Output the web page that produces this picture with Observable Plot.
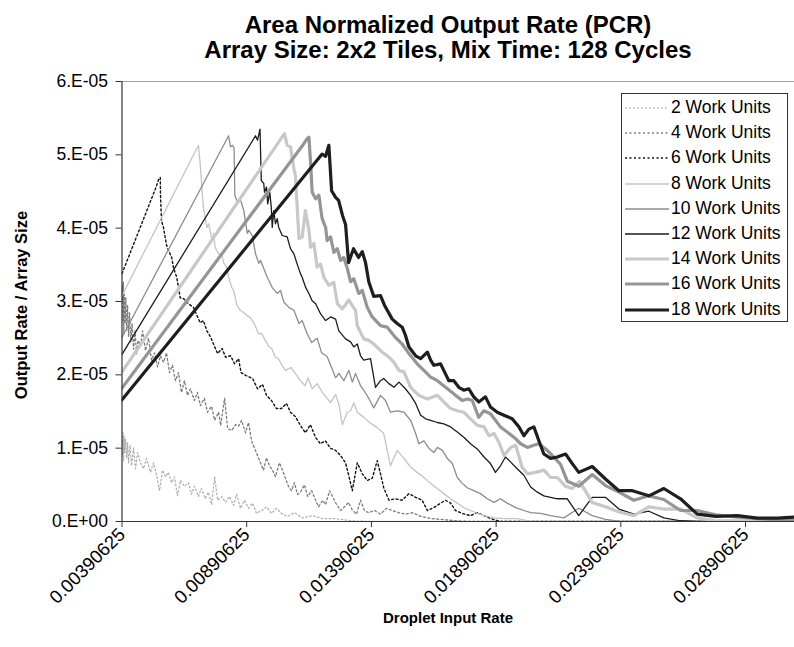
<!DOCTYPE html>
<html>
<head>
<meta charset="utf-8">
<script src="https://cdn.jsdelivr.net/npm/d3@7"></script>
<script src="https://cdn.jsdelivr.net/npm/@observablehq/plot@0.6"></script>
<style>
  body { margin: 0; background: #fff; }
  #wrap { position: relative; width: 794px; height: 647px; overflow: hidden; font-family: "Liberation Sans", Arial, sans-serif; color: #000; }
  #title { position: absolute; left: 0; top: 12px; width: 896px; text-align: center; font-weight: bold; font-size: 24px; line-height: 25px; white-space: nowrap; }
  #xtitle { position: absolute; left: 448px; top: 617px; transform: translate(-50%, -50%); font-weight: bold; font-size: 15px; white-space: nowrap; }
  #ytitle { position: absolute; left: 21px; top: 305px; transform: translate(-50%, -50%) rotate(-90deg); font-weight: bold; font-size: 16.5px; white-space: nowrap; }
  #legend { position: absolute; left: 621px; top: 93px; width: 165px; height: 227px; border: 1px solid #333; background: #fff; }
  .row { position: absolute; left: 0; height: 25px; width: 165px; }
  .row svg { position: absolute; left: 2px; top: 0; }
  .row span { position: absolute; left: 49px; top: 2px; font-size: 17.5px; line-height: 21px; white-space: nowrap; }
  #chart { position: absolute; left: 0; top: 0; }
</style>
</head>
<body>
<div id="wrap">
  <div id="chart"></div>
  <div id="title">Area Normalized Output Rate (PCR)<br>Array Size: 2x2 Tiles, Mix Time: 128 Cycles</div>
  <div id="ytitle">Output Rate / Array Size</div>
  <div id="xtitle">Droplet Input Rate</div>
  <div id="legend"></div>
</div>
<script>
// Axis ticks
const xTicks = [0.00390625, 0.00890625, 0.01390625, 0.01890625, 0.02390625, 0.02890625];
const xTickLabels = ["0.00390625", "0.00890625", "0.01390625", "0.01890625", "0.02390625", "0.02890625"];
const xDomain = [0.00390625, 0.03125];
const yTicks = [0, 1e-5, 2e-5, 3e-5, 4e-5, 5e-5, 6e-5];
const yTickLabels = ["0.E+00", "1.E-05", "2.E-05", "3.E-05", "4.E-05", "5.E-05", "6.E-05"];

// Values: [droplet input rate, output rate / array size in units of 1e-5]
const UNIT = 1e-5;
const seriesNames = ["2 Work Units", "4 Work Units", "6 Work Units", "8 Work Units", "10 Work Units", "12 Work Units", "14 Work Units", "16 Work Units", "18 Work Units"];

const s2 = [[0.00390625,1.10],[0.00393,0.90],[0.00395,1.21],[0.00397,0.83],[0.00399,1.16],[0.00401,0.94],[0.00405,1.13],[0.00409,0.86],[0.00413,1.08],[0.00417,0.80],[0.00423,1.04],[0.00429,0.76],[0.00437,1.00],[0.00445,0.72],[0.00453,0.94],[0.00465,0.80],[0.00477,0.72],[0.00489,0.86],[0.00505,0.67],[0.00517,0.80],[0.00529,0.64],[0.00541,0.42],[0.00553,0.70],[0.00565,0.61],[0.00577,0.67],[0.00589,0.53],[0.00601,0.61],[0.00613,0.35],[0.00625,0.56],[0.00641,0.48],[0.00657,0.53],[0.00669,0.37],[0.00681,0.48],[0.00697,0.34],[0.00709,0.45],[0.00725,0.31],[0.00737,0.40],[0.00750,0.23],[0.00762,0.61],[0.00774,0.29],[0.00790,0.34],[0.00806,0.26],[0.00822,0.34],[0.00838,0.22],[0.00850,0.37],[0.00866,0.18],[0.00882,0.29],[0.00898,0.18],[0.00914,0.25],[0.00930,0.11],[0.00950,0.15],[0.00970,0.20],[0.00990,0.11],[0.01010,0.18],[0.01030,0.11],[0.01054,0.07],[0.01082,0.12],[0.01114,0.05],[0.01155,0.08],[0.01195,0.04],[0.01247,0.04],[0.01307,0.01],[0.01387,0],[0.03125,0]];

const s4 = [[0.00390625,3.01],[0.00392,3.22],[0.00394,2.74],[0.00396,3.27],[0.00398,2.56],[0.00400,3.10],[0.00403,2.70],[0.00406,3.05],[0.00409,2.60],[0.00413,2.95],[0.00417,2.52],[0.00421,2.85],[0.00426,2.45],[0.00431,2.70],[0.00437,2.35],[0.00443,2.60],[0.00449,2.28],[0.00455,2.47],[0.00465,2.40],[0.00473,2.60],[0.00485,2.33],[0.00497,2.50],[0.00509,2.20],[0.00521,2.30],[0.00533,2.11],[0.00545,2.26],[0.00557,2.17],[0.00569,2.30],[0.00581,2.03],[0.00593,2.13],[0.00605,1.92],[0.00617,2.03],[0.00629,1.76],[0.00641,1.92],[0.00653,1.72],[0.00665,1.81],[0.00681,1.65],[0.00693,1.76],[0.00705,1.58],[0.00721,1.68],[0.00733,1.49],[0.00750,1.57],[0.00762,1.38],[0.00778,1.49],[0.00786,1.31],[0.00802,1.68],[0.00814,1.27],[0.00830,1.24],[0.00846,1.32],[0.00858,1.30],[0.00870,1.38],[0.00886,1.21],[0.00898,1.35],[0.00910,1.10],[0.00922,1.00],[0.00934,0.90],[0.00946,0.80],[0.00958,0.70],[0.00970,0.87],[0.00982,0.76],[0.00994,0.70],[0.01006,0.61],[0.01022,0.80],[0.01034,0.70],[0.01046,0.59],[0.01058,0.48],[0.01070,0.42],[0.01082,0.53],[0.01094,0.37],[0.01106,0.40],[0.01122,0.50],[0.01135,0.34],[0.01151,0.42],[0.01167,0.29],[0.01179,0.20],[0.01195,0.29],[0.01207,0.23],[0.01223,0.42],[0.01235,0.34],[0.01251,0.23],[0.01267,0.15],[0.01283,0.20],[0.01299,0.26],[0.01315,0.15],[0.01331,0.10],[0.01347,0.29],[0.01363,0.15],[0.01379,0.12],[0.01403,0.15],[0.01427,0.10],[0.01451,0.18],[0.01475,0.15],[0.01499,0.12],[0.01527,0.10],[0.01556,0.12],[0.01588,0.07],[0.01628,0.04],[0.01668,0.03],[0.01728,0.01],[0.01788,0],[0.03125,0]];

const s6 = [[0.00390625,3.38],[0.00525,4.54],[0.00537,4.66],[0.00544,4.69],[0.00545,4.45],[0.00547,4.28],[0.00549,4.10],[0.00557,4.01],[0.00564,3.87],[0.00570,3.76],[0.00577,3.70],[0.00590,3.60],[0.00597,3.46],[0.00610,3.33],[0.00617,3.19],[0.00624,3.05],[0.00637,3.04],[0.00657,2.97],[0.00677,2.92],[0.00691,2.81],[0.00704,2.71],[0.00717,2.74],[0.00731,2.60],[0.00745,2.52],[0.00760,2.40],[0.00774,2.29],[0.00792,2.36],[0.00806,2.24],[0.00826,2.26],[0.00842,2.15],[0.00858,2.22],[0.00868,2.03],[0.00888,1.99],[0.00914,1.95],[0.00934,1.81],[0.00954,1.87],[0.00970,1.72],[0.00990,1.65],[0.01010,1.54],[0.01030,1.54],[0.01050,1.61],[0.01066,1.49],[0.01086,1.43],[0.01106,1.31],[0.01126,1.21],[0.01146,1.32],[0.01166,1.15],[0.01186,1.06],[0.01206,1.10],[0.01226,1.00],[0.01247,0.97],[0.01267,0.90],[0.01287,0.80],[0.01301,0.61],[0.01314,0.42],[0.01334,0.80],[0.01354,0.65],[0.01374,0.56],[0.01394,0.59],[0.01414,0.83],[0.01427,0.65],[0.01440,0.46],[0.01461,0.29],[0.01487,0.31],[0.01514,0.29],[0.01541,0.38],[0.01568,0.33],[0.01594,0.29],[0.01615,0.15],[0.01641,0.19],[0.01668,0.25],[0.01688,0.29],[0.01708,0.25],[0.01728,0.15],[0.01755,0.11],[0.01788,0.08],[0.01815,0.12],[0.01842,0.08],[0.01868,0.04],[0.01908,0],[0.03125,0]];

const s8 = [[0.00390625,3.08],[0.00697,5.13],[0.00704,4.88],[0.00711,4.55],[0.00717,4.28],[0.00724,4.15],[0.00731,4.01],[0.00738,4.06],[0.00744,3.97],[0.00751,3.83],[0.00758,3.93],[0.00764,3.74],[0.00778,3.65],[0.00791,3.63],[0.00798,3.53],[0.00811,3.46],[0.00818,3.33],[0.00831,3.19],[0.00838,3.15],[0.00845,3.05],[0.00851,2.95],[0.00865,2.88],[0.00878,2.85],[0.00891,2.81],[0.00906,2.78],[0.00925,2.67],[0.00938,2.56],[0.00951,2.56],[0.00965,2.47],[0.00978,2.39],[0.00991,2.36],[0.01006,2.24],[0.01018,2.22],[0.01032,2.13],[0.01046,2.06],[0.01068,2.10],[0.01092,1.99],[0.01106,1.92],[0.01125,1.85],[0.01137,1.96],[0.01153,1.81],[0.01173,1.88],[0.01196,1.75],[0.01227,1.62],[0.01247,1.73],[0.01260,1.60],[0.01274,1.32],[0.01294,1.49],[0.01307,1.51],[0.01320,1.62],[0.01334,1.49],[0.01360,1.42],[0.01387,1.34],[0.01414,1.28],[0.01440,1.20],[0.01467,0.76],[0.01494,0.97],[0.01521,0.86],[0.01548,0.74],[0.01574,0.67],[0.01601,0.60],[0.01628,0.52],[0.01655,0.45],[0.01681,0.38],[0.01708,0.31],[0.01735,0.25],[0.01761,0.19],[0.01788,0.15],[0.01815,0.11],[0.01842,0.08],[0.01882,0.05],[0.01922,0.04],[0.01975,0.04],[0.02029,0],[0.03125,0]];

const s10 = [[0.00390625,2.51],[0.00818,5.26],[0.00826,5.11],[0.00834,5.13],[0.00840,5.09],[0.00843,4.45],[0.00852,4.37],[0.00866,4.38],[0.00879,4.24],[0.00893,3.93],[0.00899,3.97],[0.00913,3.90],[0.00926,3.65],[0.00939,3.52],[0.00946,3.56],[0.00959,3.45],[0.00973,3.33],[0.00993,3.19],[0.01013,3.11],[0.01026,3.15],[0.01040,2.99],[0.01060,2.92],[0.01080,2.88],[0.01100,2.70],[0.01113,2.74],[0.01133,2.56],[0.01151,2.44],[0.01173,2.50],[0.01191,2.30],[0.01213,2.25],[0.01231,2.10],[0.01247,1.96],[0.01260,2.02],[0.01280,1.92],[0.01300,2.06],[0.01314,1.90],[0.01327,2.02],[0.01347,1.85],[0.01360,1.79],[0.01380,1.68],[0.01400,1.55],[0.01427,1.72],[0.01447,1.65],[0.01467,1.49],[0.01494,1.51],[0.01521,1.49],[0.01548,1.38],[0.01568,1.20],[0.01581,1.06],[0.01601,1.10],[0.01621,1.00],[0.01641,0.94],[0.01655,1.01],[0.01675,0.97],[0.01695,0.86],[0.01715,0.79],[0.01735,0.60],[0.01755,0.52],[0.01775,0.46],[0.01801,0.42],[0.01828,0.38],[0.01855,0.31],[0.01882,0.26],[0.01908,0.31],[0.01935,0.25],[0.01969,0.19],[0.02002,0.15],[0.02029,0.12],[0.02069,0.11],[0.02109,0.08],[0.02162,0.05],[0.02222,0.18],[0.02276,0.08],[0.02329,0.03],[0.02390,0],[0.03125,0]];

const s12 = [[0.00390625,2.28],[0.00926,5.26],[0.00934,5.20],[0.00944,5.35],[0.00949,4.65],[0.00959,4.61],[0.00962,4.49],[0.00970,4.56],[0.00975,4.33],[0.00983,4.49],[0.00989,4.29],[0.00993,4.01],[0.00999,4.24],[0.01006,4.06],[0.01013,4.13],[0.01019,4.01],[0.01033,3.90],[0.01053,3.88],[0.01066,3.72],[0.01080,3.65],[0.01093,3.51],[0.01106,3.38],[0.01113,3.33],[0.01126,3.20],[0.01140,3.11],[0.01153,3.01],[0.01167,2.97],[0.01187,2.83],[0.01207,2.74],[0.01227,2.79],[0.01247,2.76],[0.01260,2.60],[0.01287,2.49],[0.01307,2.45],[0.01320,2.38],[0.01334,2.42],[0.01347,2.26],[0.01360,2.20],[0.01387,2.22],[0.01407,1.83],[0.01427,1.92],[0.01440,1.95],[0.01461,1.88],[0.01481,1.83],[0.01501,1.90],[0.01527,1.81],[0.01548,1.72],[0.01568,1.61],[0.01588,1.45],[0.01608,1.40],[0.01628,1.38],[0.01655,1.35],[0.01681,1.33],[0.01708,1.29],[0.01735,1.22],[0.01761,1.15],[0.01788,1.06],[0.01815,0.99],[0.01842,0.88],[0.01868,0.79],[0.01888,0.67],[0.01908,0.76],[0.01928,0.88],[0.01949,0.81],[0.01975,0.72],[0.02002,0.63],[0.02029,0.47],[0.02056,0.40],[0.02082,0.35],[0.02109,0.33],[0.02136,0.31],[0.02176,0.31],[0.02222,0.08],[0.02276,0.33],[0.02329,0.33],[0.02383,0.17],[0.02443,0.10],[0.02503,0.14],[0.02563,0.05],[0.02630,0.01],[0.02697,0],[0.03125,0]];

const s14 = [[0.00390625,2.04],[0.01042,5.29],[0.01053,5.13],[0.01066,5.11],[0.01080,4.81],[0.01086,4.72],[0.01100,3.86],[0.01113,3.88],[0.01126,4.24],[0.01140,3.97],[0.01147,3.74],[0.01160,3.79],[0.01173,3.47],[0.01187,3.51],[0.01200,3.33],[0.01220,3.22],[0.01240,3.26],[0.01254,2.97],[0.01274,2.90],[0.01300,3.02],[0.01327,2.88],[0.01334,2.67],[0.01360,2.49],[0.01380,2.47],[0.01400,2.42],[0.01434,2.31],[0.01461,2.24],[0.01481,2.17],[0.01501,2.06],[0.01521,2.04],[0.01548,1.83],[0.01581,1.72],[0.01615,1.67],[0.01655,1.72],[0.01681,1.63],[0.01708,1.54],[0.01735,1.51],[0.01761,1.49],[0.01788,1.40],[0.01815,1.31],[0.01842,1.29],[0.01862,1.17],[0.01882,1.20],[0.01902,1.08],[0.01922,0.90],[0.01949,1.01],[0.01969,1.04],[0.01995,0.74],[0.02016,0.65],[0.02049,0.67],[0.02082,0.70],[0.02109,0.60],[0.02136,0.60],[0.02169,0.48],[0.02196,0.45],[0.02225,0.55],[0.02276,0.26],[0.02329,0.20],[0.02383,0.13],[0.02443,0.08],[0.02503,0.20],[0.02563,0.17],[0.02630,0.17],[0.02697,0.05],[0.02771,0.01],[0.02858,0.01],[0.03125,0]];

const s16 = [[0.00390625,1.82],[0.01113,5.12],[0.01133,5.22],[0.01140,5.24],[0.01147,4.88],[0.01153,4.49],[0.01167,4.40],[0.01180,4.45],[0.01193,4.13],[0.01207,4.01],[0.01213,3.83],[0.01227,3.88],[0.01240,3.67],[0.01254,3.72],[0.01267,3.56],[0.01280,3.60],[0.01294,3.45],[0.01307,3.27],[0.01320,3.31],[0.01340,3.11],[0.01354,3.15],[0.01374,2.92],[0.01394,2.79],[0.01427,2.67],[0.01454,2.65],[0.01487,2.51],[0.01514,2.42],[0.01541,2.29],[0.01574,2.15],[0.01601,2.06],[0.01628,1.97],[0.01655,1.92],[0.01688,1.83],[0.01728,1.72],[0.01755,1.65],[0.01775,1.67],[0.01795,1.65],[0.01821,1.42],[0.01841,1.51],[0.01868,1.47],[0.01888,1.38],[0.01908,1.29],[0.01935,1.22],[0.01962,1.15],[0.01989,1.06],[0.02016,1.01],[0.02042,1.04],[0.02062,1.06],[0.02089,0.99],[0.02116,0.90],[0.02149,0.78],[0.02176,0.55],[0.02222,0.48],[0.02276,0.64],[0.02329,0.49],[0.02383,0.40],[0.02443,0.29],[0.02503,0.35],[0.02563,0.30],[0.02630,0.15],[0.02697,0.15],[0.02771,0.09],[0.02858,0.06],[0.02938,0.04],[0.03018,0.02],[0.03125,0.02]];

const s18 = [[0.00390625,1.66],[0.01193,5.01],[0.01207,4.98],[0.01220,5.13],[0.01231,4.51],[0.01247,4.42],[0.01259,4.38],[0.01275,4.17],[0.01287,4.05],[0.01299,3.53],[0.01319,3.72],[0.01339,3.60],[0.01354,3.68],[0.01367,3.53],[0.01380,3.27],[0.01400,3.07],[0.01427,3.08],[0.01443,2.95],[0.01474,2.76],[0.01494,2.70],[0.01514,2.65],[0.01527,2.54],[0.01541,2.38],[0.01568,2.26],[0.01588,2.22],[0.01615,2.31],[0.01628,2.20],[0.01641,2.13],[0.01668,2.15],[0.01688,2.01],[0.01701,1.92],[0.01721,1.92],[0.01741,1.83],[0.01761,1.79],[0.01781,1.81],[0.01801,1.70],[0.01821,1.63],[0.01848,1.70],[0.01868,1.56],[0.01895,1.49],[0.01922,1.45],[0.01955,1.40],[0.01982,1.29],[0.02002,1.17],[0.02022,1.26],[0.02042,1.29],[0.02062,1.10],[0.02082,0.92],[0.02109,0.86],[0.02136,0.88],[0.02169,0.92],[0.02196,0.79],[0.02222,0.67],[0.02276,0.75],[0.02329,0.58],[0.02383,0.42],[0.02437,0.42],[0.02503,0.35],[0.02563,0.45],[0.02630,0.31],[0.02697,0.10],[0.02771,0.07],[0.02858,0.08],[0.02938,0.045],[0.03018,0.045],[0.03125,0.07]];

const seriesValues = [s2, s4, s6, s8, s10, s12, s14, s16, s18];
const seriesStyles = [
  {color: "#b0b0b0", width: 1.3, dash: "1.5,2.5"},
  {color: "#7c7c7c", width: 1.3, dash: "2,2.5"},
  {color: "#111111", width: 1.4, dash: "2,2.5"},
  {color: "#c4c4c4", width: 1.3, dash: null},
  {color: "#8c8c8c", width: 1.3, dash: null},
  {color: "#1c1c1c", width: 1.3, dash: null},
  {color: "#c8c8c8", width: 3.2, dash: null},
  {color: "#959595", width: 3.2, dash: null},
  {color: "#1e1e1e", width: 3.2, dash: null}
];

const rows = seriesNames.flatMap((name, k) =>
  seriesValues[k].map(([x, v]) => ({series: name, x, y: v * UNIT})));

const chart = Plot.plot({
  width: 794,
  height: 647,
  marginTop: 81,
  marginBottom: 126,
  marginLeft: 121.5,
  marginRight: 0,
  style: {fontFamily: "'Liberation Sans', Arial, sans-serif", fontSize: "17.5px", color: "#000", background: "transparent"},
  x: {domain: xDomain, range: [121.5, 803.5]},
  y: {domain: [yTicks[0], yTicks[yTicks.length - 1]]},
  marks: [
    Plot.ruleY([yTicks[yTicks.length - 1]], {stroke: "#a0a0a0", strokeWidth: 1.2}),
    ...seriesNames.map((name, k) => Plot.line(rows.filter(r => r.series === name), {
      x: "x", y: "y",
      stroke: seriesStyles[k].color,
      strokeWidth: seriesStyles[k].width,
      strokeDasharray: seriesStyles[k].dash,
      strokeLinejoin: "round",
      clip: true
    })),
    Plot.ruleX([xDomain[0]], {stroke: "#333", strokeWidth: 1.2}),
    Plot.ruleY([0], {stroke: "#333", strokeWidth: 1.2}),
    Plot.axisX({ticks: xTicks, tickFormat: d => xTickLabels[xTicks.indexOf(d)], tickRotate: -45, tickSize: 6, tickPadding: 4, label: null, stroke: "#333", fontSize: 18.5}),
    Plot.axisY({ticks: yTicks, tickFormat: d => yTickLabels[yTicks.indexOf(d)], tickSize: 6, tickPadding: 8, label: null, stroke: "#333", fontSize: 17.5})
  ]
});
document.getElementById("chart").appendChild(chart);

// Legend (HTML)
const legend = document.getElementById("legend");
seriesNames.forEach((name, k) => {
  const st = seriesStyles[k];
  const row = document.createElement("div");
  row.className = "row";
  row.style.top = (1 + k * 25.2) + "px";
  row.innerHTML = `<svg width="46" height="25"><line x1="1" x2="45" y1="13" y2="13" stroke="${st.color}" stroke-width="${st.width}" ${st.dash ? `stroke-dasharray="${st.dash}"` : ""} /></svg><span>${name}</span>`;
  legend.appendChild(row);
});
</script>
</body>
</html>
